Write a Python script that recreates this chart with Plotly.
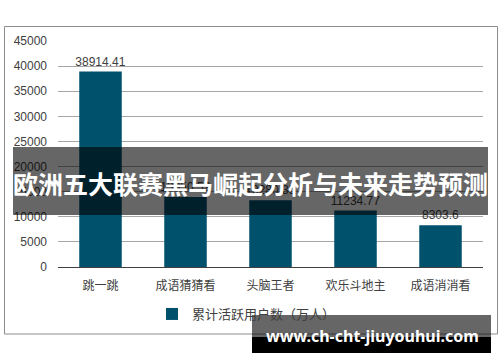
import plotly.graph_objects as go

categories = ["跳一跳", "成语猜猜看", "头脑王者", "欢乐斗地主", "成语消消看"]
values = [38914.41, 13950.52, 13280.35, 11234.77, 8303.6]
value_labels = ["38914.41", "13950.52", "13280.35", "11234.77", "8303.6"]
series_name = "累计活跃用户数（万人）"
y_ticks = [0, 5000, 10000, 15000, 20000, 25000, 30000, 35000, 40000, 45000]
banner_title = "欧洲五大联赛黑马崛起分析与未来走势预测"
watermark = "www.ch-cht-jiuyouhui.com"

W, H = 500, 362
L, R, T, B = 58, 17, 41, 95
pw, ph = W - L - R, H - T - B

def px(x):
    return (x - L) / pw

def py(y):
    return (H - B - y) / ph

bar_color = "#00516C"
text_color = "#404040"
font_fam = "Liberation Sans, Arial, Noto Sans CJK SC, sans-serif"

fig = go.Figure()
fig.add_trace(go.Bar(
    x=categories, y=values, name=series_name,
    marker=dict(color=bar_color, line=dict(width=0)),
    text=value_labels, textposition="outside", cliponaxis=False, constraintext="none",
    textfont=dict(size=12, color=text_color, family=font_fam),
))

shapes = [
    dict(type="rect", xref="paper", yref="paper", x0=px(4.5), x1=px(497.5), y0=py(334), y1=py(26.5),
         line=dict(color="#8c8c8c", width=1), fillcolor="rgba(0,0,0,0)", layer="below"),
    dict(type="rect", xref="paper", yref="paper", x0=px(13), x1=px(488), y0=py(215), y1=py(147),
         line=dict(width=0), fillcolor="rgba(0,0,0,0.6)", layer="above"),
    dict(type="rect", xref="paper", yref="paper", x0=px(252), x1=px(491), y0=py(337), y1=py(315),
         line=dict(width=0), fillcolor="rgba(0,0,0,0.6)", layer="above"),
    dict(type="rect", xref="paper", yref="paper", x0=px(252), x1=px(491), y0=py(353), y1=py(337),
         line=dict(width=0), fillcolor="#000000", layer="above"),
]

annotations = [
    dict(text="<b>" + banner_title + "</b>", xref="paper", yref="paper", x=px(250.5), y=py(183),
         xanchor="center", yanchor="middle", showarrow=False,
         font=dict(size=25, color="white", family="Noto Sans CJK SC, sans-serif")),
    dict(text="<b>" + watermark + "</b>", xref="paper", yref="paper", x=px(372), y=py(336),
         xanchor="center", yanchor="middle", showarrow=False,
         font=dict(size=16, color="white", family="Noto Sans, DejaVu Sans, sans-serif")),
]

fig.update_layout(
    width=W, height=H,
    margin=dict(l=L, r=R, t=T, b=B, pad=0),
    paper_bgcolor="white", plot_bgcolor="white",
    bargap=0.5,
    showlegend=True,
    legend=dict(orientation="h", x=px(152), y=py(314), xanchor="left", yanchor="middle",
                itemwidth=30,
                font=dict(size=13, color=text_color, family=font_fam), bgcolor="rgba(0,0,0,0)"),
    xaxis=dict(showgrid=False, showline=True, linecolor="#404040", linewidth=1, ticks="",
               ticklabelstandoff=8,
               tickfont=dict(size=12, color=text_color, family=font_fam), fixedrange=True),
    yaxis=dict(range=[0, 45000], tickvals=y_ticks, ticktext=[str(v) for v in y_ticks],
               showgrid=True, gridcolor="#a6a6a6", gridwidth=1, zeroline=False, showline=False,
               ticks="", ticklabelstandoff=10,
               tickfont=dict(size=12, color=text_color, family=font_fam)),
    shapes=shapes,
    annotations=annotations,
    font=dict(family=font_fam),
)

fig.write_html("out.html")
